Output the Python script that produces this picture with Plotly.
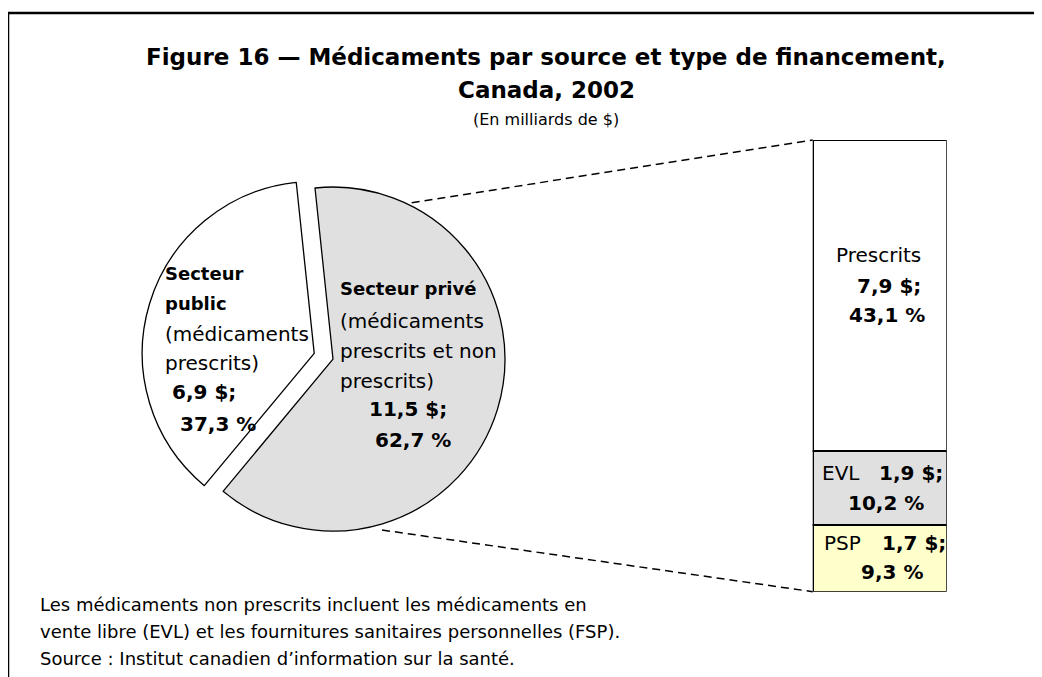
import plotly.graph_objects as go

W, H = 1042, 677
OFF = 8  # the page body adds an 8px margin around the figure

# ---------------- data ----------------
pie_labels = ["Secteur privé", "Secteur public"]
pie_amounts = [11.5, 6.9]        # milliards de $
pie_shares = [62.7, 37.3]        # %
pie_colors = ["#E0E0E0", "#FFFFFF"]

bar_labels = ["PSP", "EVL", "Prescrits"]     # bottom -> top
bar_amounts = [1.7, 1.9, 7.9]
bar_shares = [9.3, 10.2, 43.1]
bar_colors = ["#FFFFCC", "#E0E0E0", "#FFFFFF"]

title_lines = ["Figure 16 — Médicaments par source et type de financement,",
               "Canada, 2002"]
subtitle = "(En milliards de $)"
footer_lines = ["Les médicaments non prescrits incluent les médicaments en",
                "vente libre (EVL) et les fournitures sanitaires personnelles (FSP).",
                "Source : Institut canadien d’information sur la santé."]


def fr(v):
    return f"{v:.1f}".replace(".", ",")


def px(x):
    return (x - OFF) / W


def py(y):
    return 1 - (y - OFF) / H


FONT = "DejaVu Sans"

# ---------------- pie geometry (screen pixels) ----------------
cx, cy, r, pull = 323.6, 356.2, 172.0, 0.057
half = r * (1 + pull)
pie = go.Pie(
    labels=pie_labels, values=pie_shares, sort=False, direction="clockwise",
    rotation=-6, pull=[pull, pull], textinfo="none", hoverinfo="label+value",
    marker=dict(colors=pie_colors, line=dict(color="black", width=1.3)),
    domain=dict(x=[px(cx - half), px(cx + half)], y=[py(cy + half), py(cy - half)]),
    showlegend=False,
)

fig = go.Figure(pie)

for lab, val, col in zip(bar_labels, bar_shares, bar_colors):
    fig.add_trace(go.Bar(x=[0], y=[val], width=1, name=lab,
                         marker=dict(color=col, line=dict(color="black", width=2)),
                         showlegend=False, xaxis="x", yaxis="y"))

bar_left, bar_right = 812.7, 946.7
bar_top, bar_bot = 140.0, 591.7
fig.update_layout(
    barmode="stack",
    width=W, height=H,
    margin=dict(l=0, r=0, t=0, b=0),
    paper_bgcolor="white", plot_bgcolor="rgba(0,0,0,0)",
    font=dict(family=FONT, color="black"),
    xaxis=dict(domain=[px(bar_left), px(bar_right)], range=[-0.5, 0.5], visible=False, fixedrange=True),
    yaxis=dict(domain=[py(bar_bot), py(bar_top)], range=[0, sum(bar_shares)], visible=False, fixedrange=True),
)

ann = []


def text(x, y, s, size=20, bold=False, anchor="left"):
    ann.append(dict(x=px(x), y=py(y), xref="paper", yref="paper", showarrow=False,
                    xanchor=anchor, yanchor="middle",
                    text=f"<b>{s}</b>" if bold else s,
                    font=dict(family=FONT, size=size, color="black")))


# title
text(546, 57, title_lines[0], size=23, bold=True, anchor="center")
text(546, 90, title_lines[1], size=23, bold=True, anchor="center")
text(546, 119, subtitle, size=16, anchor="center")

# public slice label
text(163, 274, "Secteur", size=18, bold=True)
text(163, 303, "public", size=18, bold=True)
text(163, 334, "(médicaments", size=20)
text(163, 363, "prescrits)", size=20)
text(170, 392, fr(pie_amounts[1]) + " $;", size=20, bold=True)
text(178, 424, fr(pie_shares[1]) + " %", size=20, bold=True)

# private slice label
text(338, 289, "Secteur privé", size=18, bold=True)
text(338, 321, "(médicaments", size=20)
text(338, 351, "prescrits et non", size=20)
text(338, 381, "prescrits)", size=20)
text(367, 409, fr(pie_amounts[0]) + " $;", size=20, bold=True)
text(373, 440, fr(pie_shares[0]) + " %", size=20, bold=True)

# bar labels
text(878, 255, bar_labels[2], size=20, anchor="center")
text(889, 286, fr(bar_amounts[2]) + " $;", size=20, bold=True, anchor="center")
text(887, 315, fr(bar_shares[2]) + " %", size=20, bold=True, anchor="center")

text(820, 473, bar_labels[1], size=20)
text(877, 473, fr(bar_amounts[1]) + " $;", size=20, bold=True)
text(886, 503, fr(bar_shares[1]) + " %", size=20, bold=True, anchor="center")

text(822, 543, bar_labels[0], size=20)
text(880, 543, fr(bar_amounts[0]) + " $;", size=20, bold=True)
text(892, 572, fr(bar_shares[0]) + " %", size=20, bold=True, anchor="center")

# footer
for i, line in enumerate(footer_lines):
    text(38, 604 + 27 * i, line, size=18)

fig.update_layout(annotations=ann)

shapes = [
    # frame (top and left edges)
    dict(type="line", xref="paper", yref="paper", x0=px(8), y0=py(13), x1=px(1060), y1=py(13),
         line=dict(color="black", width=2.5)),
    dict(type="line", xref="paper", yref="paper", x0=px(8), y0=py(13), x1=px(8), y1=py(690),
         line=dict(color="black", width=2.5)),
    # connector lines
    dict(type="line", xref="paper", yref="paper", x0=px(411.7), y0=py(202.7), x1=px(bar_left), y1=py(bar_top),
         line=dict(color="black", width=1.5, dash="8px,5px")),
    dict(type="line", xref="paper", yref="paper", x0=px(382), y0=py(530), x1=px(bar_left), y1=py(bar_bot),
         line=dict(color="black", width=1.5, dash="8px,5px")),
]
fig.update_layout(shapes=shapes)

fig.write_html("out.html")
